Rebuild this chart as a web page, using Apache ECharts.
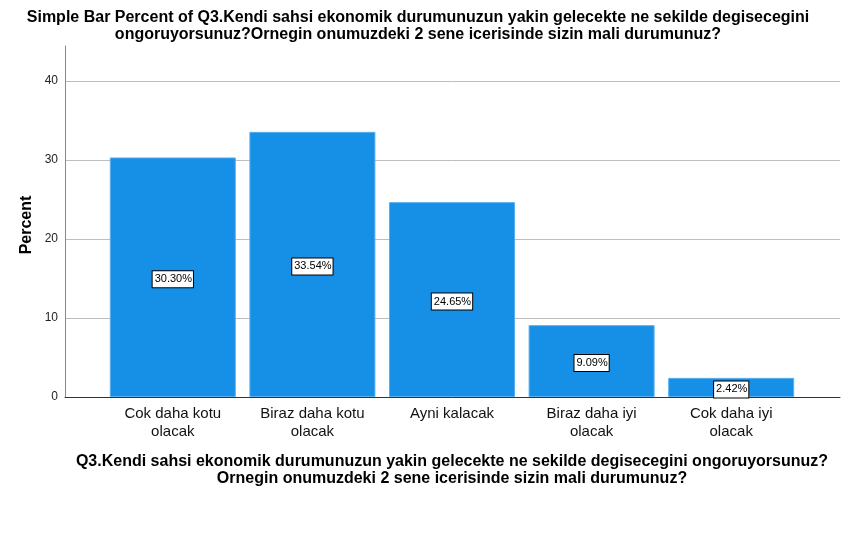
<!DOCTYPE html>
<html><head><meta charset="utf-8">
<script src="https://cdn.jsdelivr.net/npm/echarts@6/dist/echarts.min.js"></script>
<style>html,body{margin:0;padding:0;background:#fff}#c{width:849px;height:551px}</style>
</head><body><div id="c"></div>
<script>
const categories = ['Cok daha kotu\nolacak', 'Biraz daha kotu\nolacak', 'Ayni kalacak', 'Biraz daha iyi\nolacak', 'Cok daha iyi\nolacak'];
const percents = [30.30, 33.54, 24.65, 9.09, 2.42];
const titleText = 'Simple Bar Percent of Q3.Kendi sahsi ekonomik durumunuzun yakin gelecekte ne sekilde degisecegini\nongoruyorsunuz?Ornegin onumuzdeki 2 sene icerisinde sizin mali durumunuz?';
const xTitle = 'Q3.Kendi sahsi ekonomik durumunuzun yakin gelecekte ne sekilde degisecegini ongoruyorsunuz?\nOrnegin onumuzdeki 2 sene icerisinde sizin mali durumunuz?';
const yTitle = 'Percent';
const yMax = 44.4;
const yGridMax = 40;

const chart = echarts.init(document.getElementById('c'));
const font = 'Arial, "Liberation Sans", sans-serif';
chart.setOption({
  animation: false,
  textStyle: {fontFamily: font},
  title: {
    text: titleText, left: 413, top: 4, textAlign: 'center',
    textStyle: {fontSize: 16, fontWeight: 'bold', color: '#000', lineHeight: 17, fontFamily: font}
  },
  graphic: [
    {type: 'text', x: 452, y: 453, style: {text: xTitle, fill: '#000', font: 'bold 16px ' + font, textAlign: 'center', lineHeight: 17}},
    {type: 'text', rotation: Math.PI / 2, x: 27, y: 225, style: {text: yTitle, fill: '#000', font: 'bold 16px ' + font, textAlign: 'center', textVerticalAlign: 'middle'}}
  ],
  grid: [
    {left: 65, right: 9, top: 46, bottom: 154},
    {left: 103, right: 48, top: 46, bottom: 154},
    {left: 65, right: 9, top: 81, bottom: 154}
  ],
  xAxis: [
    {gridIndex: 0, type: 'value', min: 0, max: 1, axisLabel: {show: false}, axisTick: {show: false}, splitLine: {show: false},
      axisLine: {show: true, lineStyle: {color: '#333', width: 1}}},
    {gridIndex: 1, type: 'category', data: categories, axisLine: {show: false}, axisTick: {show: false},
      axisLabel: {fontSize: 15, color: '#111', lineHeight: 18, margin: 8, interval: 0}},
    {gridIndex: 2, type: 'value', min: 0, max: 1, show: false}
  ],
  yAxis: [
    {gridIndex: 0, type: 'value', min: 0, max: yMax, interval: 10,
      axisLine: {show: true, lineStyle: {color: '#888'}}, axisTick: {show: false},
      axisLabel: {fontSize: 12, color: '#222', margin: 7, showMaxLabel: false},
      splitLine: {show: false}},
    {gridIndex: 1, type: 'value', min: 0, max: yMax, show: false},
    {gridIndex: 2, type: 'value', min: 0, max: yGridMax, interval: 10,
      axisLine: {show: false}, axisTick: {show: false}, axisLabel: {show: false},
      splitLine: {show: true, lineStyle: {color: '#bdbdbd', width: 1}}}
  ],
  series: [{
    type: 'bar', xAxisIndex: 1, yAxisIndex: 1, data: percents, barWidth: 126,
    itemStyle: {color: '#1590e6', borderColor: '#5aaef0', borderWidth: 1},
    label: {
      show: true, position: 'inside', offset: [0, 2], formatter: p => p.value.toFixed(2) + '%',
      fontSize: 11, color: '#000', backgroundColor: '#fff', borderColor: '#000', borderWidth: 1,
      padding: [3, 1, 2, 2]
    }
  }]
});
</script></body></html>
